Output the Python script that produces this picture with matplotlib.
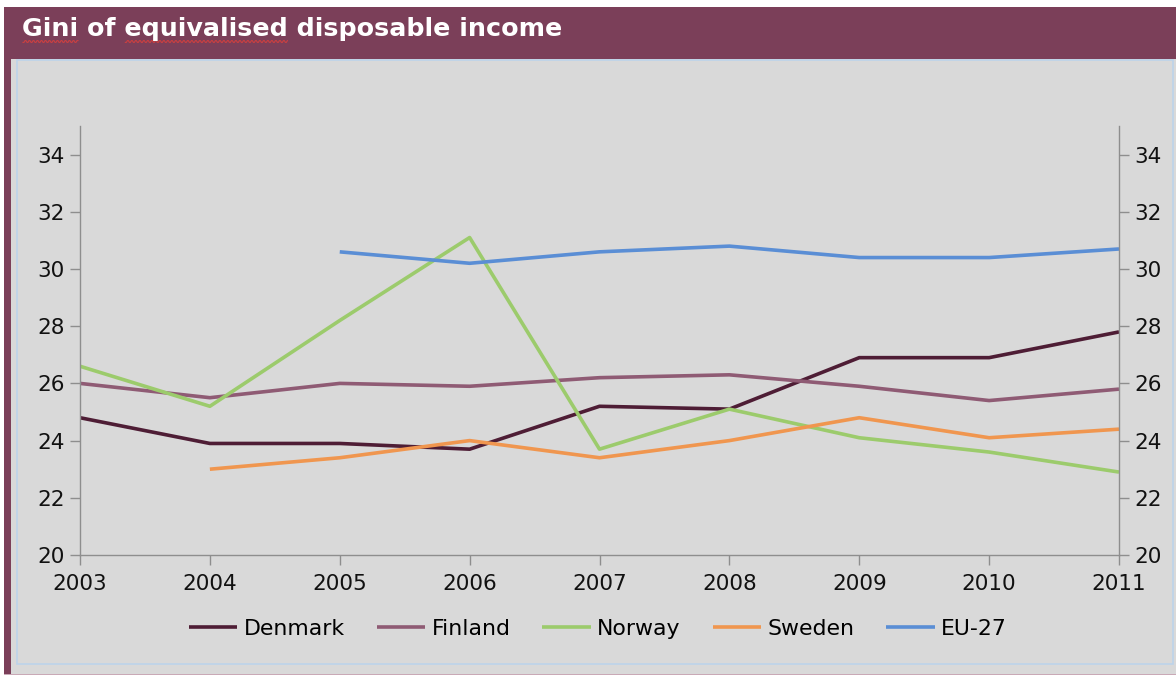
import numpy as np
import matplotlib
matplotlib.use("Agg")
import matplotlib.pyplot as plt
from matplotlib.patches import Rectangle

# ---- data -------------------------------------------------------------
years = [2003, 2004, 2005, 2006, 2007, 2008, 2009, 2010, 2011]
denmark = [24.8, 23.9, 23.9, 23.7, 25.2, 25.1, 26.9, 26.9, 27.8]
finland = [26.0, 25.5, 26.0, 25.9, 26.2, 26.3, 25.9, 25.4, 25.8]
norway = [26.6, 25.2, 28.2, 31.1, 23.7, 25.1, 24.1, 23.6, 22.9]
sweden = [None, 23.0, 23.4, 24.0, 23.4, 24.0, 24.8, 24.1, 24.4]
eu27 = [None, None, 30.6, 30.2, 30.6, 30.8, 30.4, 30.4, 30.7]

series_names = ["Denmark", "Finland", "Norway", "Sweden", "EU-27"]
series_values = [denmark, finland, norway, sweden, eu27]
series_colors = ["#4E1D35", "#8F5B74", "#9CCB6C", "#F0964F", "#5A8ED5"]

y_ticks = [20, 22, 24, 26, 28, 30, 32, 34]
title = "Gini of equivalised disposable income"

# ---- figure -----------------------------------------------------------
W, H = 1176, 675
TITLE_SIZE = 18.3
fig = plt.figure(figsize=(W / 100, H / 100), dpi=100, facecolor="white")
plt.rcParams["font.family"] = ["DejaVu Sans"]

# background panel in pixel coordinates
bg = fig.add_axes([0, 0, 1, 1])
bg.set_xlim(0, W)
bg.set_ylim(H, 0)
bg.axis("off")
maroon = "#7B3F59"
bg.add_patch(Rectangle((4, 7), W - 4, H - 7, facecolor="#D9D9D9", edgecolor="none"))
bg.add_patch(Rectangle((4, 7), W - 4, 52, facecolor=maroon, edgecolor="none"))
bg.add_patch(Rectangle((4, 7), 7, H - 7, facecolor=maroon, edgecolor="none"))
bg.add_patch(Rectangle((4, H - 1.5), W - 4, 1.5, facecolor="#C9A9B6", edgecolor="none"))
bg.add_patch(Rectangle((17, 60), 1156, 604, facecolor="none",
                       edgecolor="#BDD3EA", linewidth=1.2))

bg.text(22, 29, title, color="white", fontsize=TITLE_SIZE, fontweight="bold",
        va="center", ha="left")

# spell-check style squiggles under two words of the heading
fig.canvas.draw()
renderer = fig.canvas.get_renderer()
inv = bg.transData.inverted()


def word_span(prefix, word):
    if prefix:
        t = bg.text(22, 29, prefix, fontsize=TITLE_SIZE, fontweight="bold", va="center")
        x0 = inv.transform((t.get_window_extent(renderer).x1, 0))[0]
        t.remove()
    else:
        x0 = 22
    t2 = bg.text(22, 29, prefix + word, fontsize=TITLE_SIZE, fontweight="bold", va="center")
    x1 = inv.transform((t2.get_window_extent(renderer).x1, 0))[0]
    t2.remove()
    return x0, x1


for pre, w in [("", "Gini"), ("Gini of ", "equivalised")]:
    a, b = word_span(pre, w)
    xs = np.arange(a + 1, b, 1.0)
    ys = 41.5 + 0.9 * np.where((np.arange(len(xs)) % 4) < 2, 1, -1)
    bg.plot(xs, ys, color="#E0403A", linewidth=0.8, alpha=0.8)

# ---- chart ------------------------------------------------------------
ax = fig.add_axes([80 / W, 1 - 555 / H, (1119 - 80) / W, (555 - 126) / H])
ax.set_facecolor("none")

for name, vals, col in zip(series_names, series_values, series_colors):
    v = np.array([np.nan if x is None else x for x in vals], dtype=float)
    ax.plot(years, v, color=col, linewidth=2.6, label=name, solid_capstyle="butt")

ax.set_xlim(years[0], years[-1])
ax.set_ylim(20, 35)
ax.set_xticks(years)
ax.set_xticklabels([str(y) for y in years])
ax.set_yticks(y_ticks)

axis_col = "#8E8E8E"
for side in ["left", "right", "bottom"]:
    ax.spines[side].set_color(axis_col)
    ax.spines[side].set_linewidth(1.0)
ax.spines["top"].set_visible(False)

ax.tick_params(axis="y", which="both", left=True, right=True, labelleft=True,
               labelright=True, direction="out", length=7, width=1.0,
               color=axis_col, labelsize=15.5, pad=4, labelcolor="#111111")
ax.tick_params(axis="x", direction="out", length=7, width=1.0, color=axis_col,
               labelsize=15.5, pad=7, labelcolor="#111111")

fig.legend(loc="center", bbox_to_anchor=(598 / W, 1 - 629 / H), ncol=5,
           frameon=False, fontsize=15.8, handlelength=2.2, handletextpad=0.3,
           columnspacing=1.45, borderaxespad=0)

fig.savefig("out.png", dpi=100, facecolor="white")
